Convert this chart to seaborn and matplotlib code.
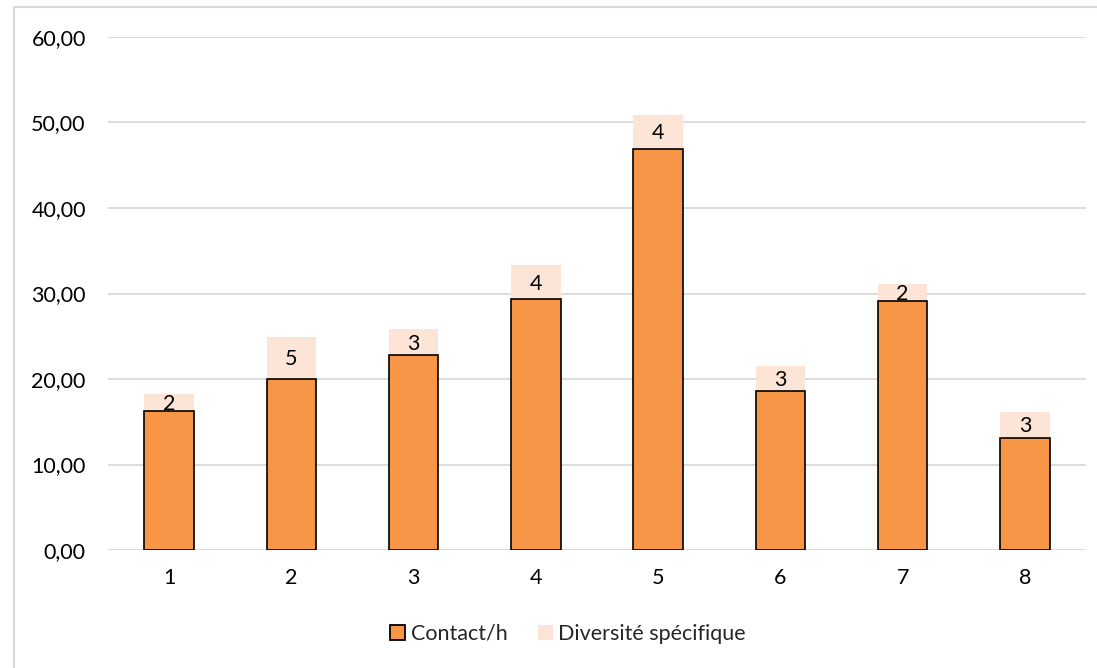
import matplotlib
matplotlib.use("Agg")
import matplotlib.pyplot as plt
from matplotlib.patches import Rectangle, Patch
import numpy as np
import pandas as pd
import seaborn as sns

# Data
sites = ["1", "2", "3", "4", "5", "6", "7", "8"]
contact_per_hour = [16.25, 19.95, 22.8, 29.3, 46.9, 18.55, 29.1, 13.1]
species_diversity = [2, 5, 3, 4, 4, 3, 2, 3]
y_ticks = [0, 10, 20, 30, 40, 50, 60]

sns.set_theme(style="white")
plt.rcParams["font.family"] = ["Lato", "DejaVu Sans"]

ORANGE = "#F79646"
PEACH = "#FCE4D6"
GRID = "#D9D9D9"
FS = 15.5

df = pd.DataFrame({"site": sites, "contact": contact_per_hour,
                   "diversity": species_diversity})

fig = plt.figure(figsize=(10.97, 6.68), dpi=100)
ax = fig.add_axes([108 / 1097, 1 - 550 / 668, (1086 - 108) / 1097, (550 - 37) / 668])

sns.barplot(data=df, x="site", y="contact", color=ORANGE, saturation=1,
            width=0.405, edgecolor="black", linewidth=1.2, ax=ax, zorder=3)
sns.barplot(data=df, x="site", y="diversity", color=PEACH, saturation=1,
            width=0.405, linewidth=0, bottom=df["contact"], ax=ax, zorder=2)

# value labels centred in the diversity segment
for i, (c, d) in enumerate(zip(contact_per_hour, species_diversity)):
    ax.text(i, c + d / 2 - 0.15, str(d), ha="center", va="center",
            fontsize=FS, color="black", zorder=4)

ax.set_ylim(0, 60)
ax.set_yticks(y_ticks)
ax.set_yticklabels([f"{t:.2f}".replace(".", ",") for t in y_ticks])
ax.yaxis.grid(True, color=GRID, linewidth=1.3, zorder=0)
ax.set_axisbelow(True)
for s in ax.spines.values():
    s.set_visible(False)
ax.tick_params(axis="both", length=0, labelsize=FS, colors="black")
ax.tick_params(axis="y", pad=16)
ax.tick_params(axis="x", pad=13)
ax.set_xlabel("")
ax.set_ylabel("")

handles = [Patch(facecolor=ORANGE, edgecolor="black", linewidth=1.3, label="Contact/h"),
           Patch(facecolor=PEACH, edgecolor="none", label="Diversité spécifique")]
fig.legend(handles=handles, loc="center", bbox_to_anchor=(568 / 1097, 1 - 634 / 668),
           ncol=2, frameon=False, fontsize=FS, handlelength=0.7,
           handleheight=0.7, handletextpad=0.25, columnspacing=1.4)

# chart-area border
fig.patches.append(Rectangle((14 / 1097, -0.05), 1.2, 1 - 7 / 668 + 0.05,
                             transform=fig.transFigure, fill=False,
                             edgecolor=GRID, linewidth=1.5))

fig.savefig("out.png", dpi=100)
